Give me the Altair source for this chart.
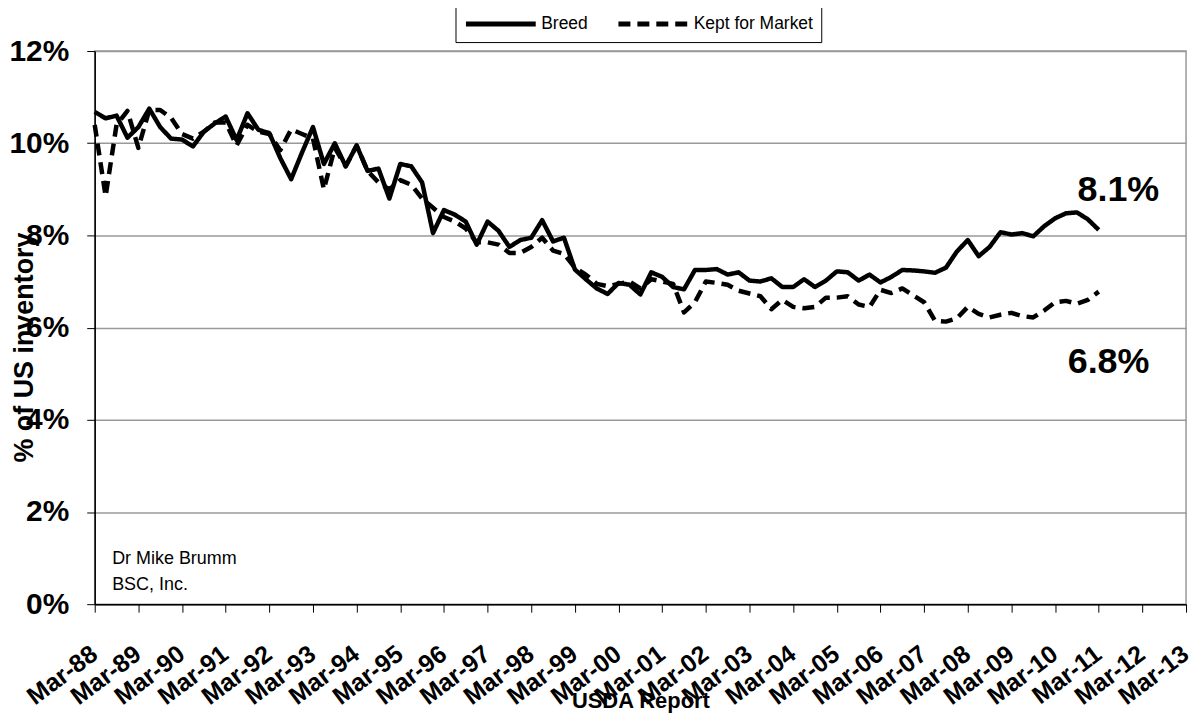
import altair as alt
import pandas as pd

FONT = "Liberation Sans"

# Quarterly USDA reports, Mar-88 (index 0) to Mar-11 (index 92)
breed = [
    10.68, 10.54, 10.6, 10.12, 10.35, 10.75, 10.35, 10.1, 10.08, 9.93,
    10.25, 10.43, 10.58, 10.07, 10.65, 10.29, 10.22, 9.68, 9.22,
    9.8, 10.35, 9.55, 10.0, 9.5, 9.95, 9.4, 9.45, 8.8, 9.55,
    9.5, 9.15, 8.05, 8.55, 8.45, 8.3, 7.8, 8.3, 8.1,
    7.75, 7.9, 7.95, 8.33, 7.87, 7.95, 7.26, 7.05, 6.85,
    6.73, 6.97, 6.93, 6.72, 7.2, 7.1, 6.88, 6.83, 7.25,
    7.25, 7.27, 7.15, 7.2, 7.02, 7.0, 7.07, 6.88, 6.88,
    7.05, 6.88, 7.02, 7.22, 7.2, 7.02, 7.15, 6.98, 7.1,
    7.25, 7.24, 7.22, 7.19, 7.3, 7.65, 7.9, 7.55, 7.75,
    8.07, 8.02, 8.05, 7.98, 8.2, 8.37, 8.48, 8.5, 8.35, 8.12,
]
kept = [
    10.4, 8.85, 10.4, 10.7, 9.9, 10.72, 10.72, 10.55, 10.2, 10.1,
    10.25, 10.45, 10.45, 9.95, 10.4, 10.25, 10.2, 9.85, 10.3,
    10.2, 10.1, 9.0, 9.9, 9.5, 9.95, 9.4, 9.15, 9.0, 9.2,
    9.1, 8.8, 8.6, 8.4, 8.3, 8.15, 7.85, 7.85, 7.8,
    7.62, 7.62, 7.75, 7.95, 7.67, 7.6, 7.3, 7.15, 6.95, 6.9, 6.95, 7.0,
    6.85, 7.05, 7.0, 6.95, 6.33, 6.55,
    7.0, 6.97, 6.93, 6.8, 6.74, 6.68,
    6.4, 6.6, 6.45, 6.42, 6.45, 6.65, 6.65, 6.68, 6.5, 6.45, 6.82, 6.75,
    6.85, 6.7, 6.55, 6.15, 6.13, 6.2, 6.45, 6.3, 6.22, 6.28,
    6.32, 6.25, 6.22, 6.37, 6.55, 6.58, 6.52, 6.6, 6.78,
]
series_names = ["Breed", "Kept for Market"]
tick_labels = ["Mar-%02d" % (y % 100) for y in range(1988, 2014)]
y_ticks = [0, 2, 4, 6, 8, 10, 12]
credit_lines = ["Dr Mike Brumm", "BSC, Inc."]

rows = []
for i, v in enumerate(breed):
    rows.append({"q": i, "v": v, "s": series_names[0]})
for i, v in enumerate(kept):
    rows.append({"q": i, "v": v, "s": series_names[1]})
df = pd.DataFrame(rows)

ann = pd.DataFrame({
    "text": ["%.1f%%" % breed[-1], "%.1f%%" % kept[-1]],
    "q": [93.8, 92.9],
    "v": [8.99, 5.25],
})
credit = pd.DataFrame({"text": credit_lines, "q": [1.6, 1.6], "v": [0.88, 0.31]})

label_expr = "[" + ",".join("'%s'" % t for t in tick_labels) + "][round(datum.value/4)]"

x_enc = alt.X(
    "q:Q",
    scale=alt.Scale(domain=[0, 100], nice=False, zero=False),
    axis=alt.Axis(
        values=list(range(0, 101, 4)),
        labelExpr=label_expr,
        labelAngle=323,
        labelAlign="right",
        labelBaseline="top",
        labelFont=FONT,
        labelFontSize=25,
        labelFontWeight="bold",
        labelColor="black",
        labelPadding=29,
        labelOffset=-8,
        labelOverlap=False,
        labelBound=False,
        labelFlush=False,
        tickSize=8,
        tickColor="black",
        tickWidth=1,
        domainColor="black",
        domainWidth=1.5,
        grid=False,
        title="USDA Report",
        titleFont=FONT,
        titleFontSize=22,
        titleFontWeight="bold",
        titleColor="black",
        titleY=104,
        titleBaseline="alphabetic",
    ),
)
y_enc = alt.Y(
    "v:Q",
    scale=alt.Scale(domain=[0, 12], nice=False, zero=True),
    axis=alt.Axis(
        values=y_ticks,
        labelExpr="datum.value + '%'",
        labelFont=FONT,
        labelFontSize=30,
        labelFontWeight="bold",
        labelColor="black",
        labelPadding=18,
        tickSize=8,
        tickColor="black",
        domainColor="black",
        domainWidth=1.5,
        grid=True,
        gridColor="#999999",
        gridWidth=1.5,
        title="% of US inventory",
        titleFont=FONT,
        titleFontSize=27,
        titleFontWeight="bold",
        titleColor="black",
        titleX=-70,
        titleY=297,
        titleAlign="center",
        titleBaseline="middle",
    ),
)

lines = alt.Chart(df).mark_line(strokeWidth=4.5, strokeJoin="round", color="black").encode(
    x=x_enc,
    y=y_enc,
    strokeDash=alt.StrokeDash(
        "s:N",
        scale=alt.Scale(domain=series_names, range=[[1, 0], [12, 7]]),
        legend=alt.Legend(
            title=None,
            orient="none",
            legendX=362,
            legendY=-46,
            direction="horizontal",
            symbolType="M-1,0H7.75",
            symbolSize=256,
            symbolStrokeWidth=5,
            symbolStrokeColor="black",
            labelFont=FONT,
            labelFontSize=17.5,
            labelColor="black",
            labelOffset=57,
            columnPadding=20,
            padding=8,
            strokeColor="black",
            fillColor="white",
        ),
    ),
    detail="s:N",
)

ann_text = alt.Chart(ann).mark_text(
    font=FONT, fontSize=36, fontWeight="bold", color="black", align="center", baseline="middle"
).encode(x="q:Q", y="v:Q", text="text:N")

credit_text = alt.Chart(credit).mark_text(
    font=FONT, fontSize=18, color="black", align="left", baseline="alphabetic"
).encode(x="q:Q", y="v:Q", text="text:N")

chart = (
    alt.layer(lines, ann_text, credit_text)
    .properties(
        width=1095,
        height=555,
        autosize=alt.AutoSizeParams(type="none"),
        padding={"left": 87, "top": 42, "right": 10, "bottom": 109},
        background="white",
    )
    .configure_view(stroke="#999999", strokeWidth=1.5)
)

chart.save("out.html", embed_options={"renderer": "svg", "actions": False})
